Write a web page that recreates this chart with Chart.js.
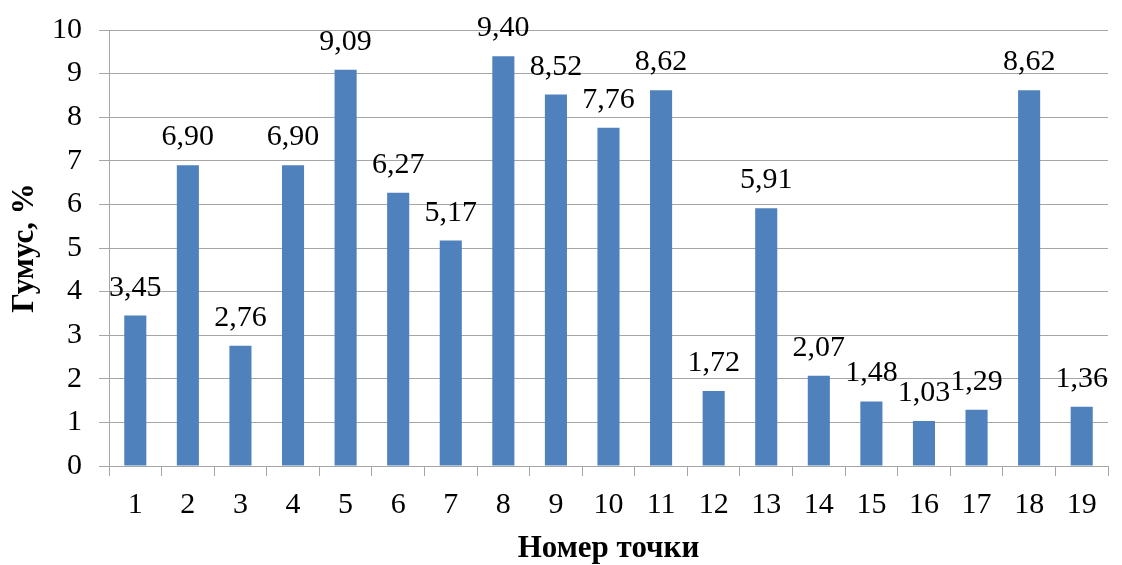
<!DOCTYPE html>
<html>
<head>
<meta charset="utf-8">
<script src="https://cdn.jsdelivr.net/npm/chart.js@4.4.1/dist/chart.umd.min.js"></script>
<style>
  html, body { margin: 0; padding: 0; background: #ffffff; }
  #wrap { width: 1122px; height: 565px; }
</style>
</head>
<body>
<div id="wrap"><canvas id="c" width="1122" height="565"></canvas></div>
<script>
// Sampling points and humus content (%)
const points = ['1','2','3','4','5','6','7','8','9','10','11','12','13','14','15','16','17','18','19'];
const humus = [3.45, 6.90, 2.76, 6.90, 9.09, 6.27, 5.17, 9.40, 8.52, 7.76, 8.62, 1.72, 5.91, 2.07, 1.48, 1.03, 1.29, 8.62, 1.36];
const yTicks = [0, 1, 2, 3, 4, 5, 6, 7, 8, 9, 10];

const FONT = '"Liberation Serif", "Times New Roman", serif';
const GRID = '#a6a6a6';

// Writes each value above its bar, with a decimal comma
const valueLabels = {
  id: 'valueLabels',
  afterDatasetsDraw(chart) {
    const ctx = chart.ctx;
    const meta = chart.getDatasetMeta(0);
    ctx.save();
    ctx.font = '30px ' + FONT;
    ctx.fillStyle = '#000000';
    ctx.textAlign = 'center';
    ctx.textBaseline = 'alphabetic';
    meta.data.forEach((bar, i) => {
      const txt = humus[i].toFixed(2).replace('.', ',');
      ctx.fillText(txt, bar.x, bar.y - 20);
    });
    ctx.restore();
  }
};

new Chart(document.getElementById('c'), {
  type: 'bar',
  data: {
    labels: points,
    datasets: [{
      data: humus,
      backgroundColor: '#4f81bd',
      borderWidth: 0,
      categoryPercentage: 1.0,
      barPercentage: 0.42
    }]
  },
  options: {
    responsive: false,
    animation: false,
    layout: { padding: { left: 0, right: 14, top: 30, bottom: 0 } },
    plugins: {
      legend: { display: false },
      tooltip: { enabled: false }
    },
    scales: {
      x: {
        grid: {
          offset: true,
          drawOnChartArea: false,
          drawTicks: true,
          tickLength: 10,
          color: GRID,
          tickColor: GRID
        },
        border: { color: GRID, width: 1 },
        ticks: {
          color: '#000000',
          font: { family: FONT, size: 30 },
          padding: 11,
          maxRotation: 0,
          autoSkip: false
        },
        title: {
          display: true,
          text: 'Номер точки',
          color: '#000000',
          font: { family: FONT, size: 31, weight: 'bold' },
          padding: { top: 4, bottom: -3 }
        },
        afterFit(scale) { scale.height = 99; }
      },
      y: {
        min: 0,
        max: 10,
        afterBuildTicks(scale) { scale.ticks = yTicks.map(v => ({ value: v })); },
        grid: {
          color: GRID,
          tickColor: GRID,
          drawTicks: true,
          tickLength: 10
        },
        border: { color: GRID, width: 1 },
        ticks: {
          color: '#000000',
          font: { family: FONT, size: 30 },
          padding: 17
        },
        title: {
          display: true,
          text: 'Гумус, %',
          color: '#000000',
          font: { family: FONT, size: 31, weight: 'bold' },
          padding: { top: 6, bottom: 0 }
        },
        afterFit(scale) {
          scale.width = 109;
          scale.paddingTop = 0;
          scale.paddingBottom = 0;
        }
      }
    }
  },
  plugins: [valueLabels]
});
</script>
</body>
</html>
